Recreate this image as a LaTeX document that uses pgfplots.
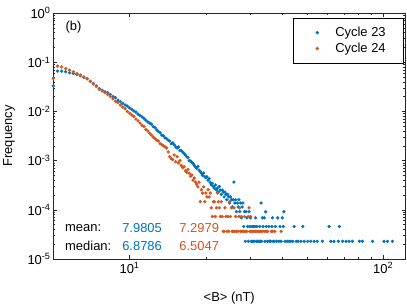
\documentclass[border=0pt]{standalone}
\usepackage{fontspec}
\setmainfont{Liberation Sans}
\usepackage{pgfplots}
\usepackage{pgfplotstable}
\pgfplotsset{compat=1.18}
\definecolor{mblue}{rgb}{0,0.447,0.741}
\definecolor{morange}{rgb}{0.85,0.325,0.098}
\definecolor{axgray}{rgb}{0.15,0.15,0.15}

% Cycle 23
\pgfplotstableread{
x f
5.0 0.033
5.2 0.066
5.4 0.066
5.6 0.064
5.8 0.061
6.0 0.059
6.2 0.056
6.4 0.053
6.6 0.049
6.8 0.046
7.0 0.041
7.2 0.037
7.4 0.033
7.6 0.029
7.8 0.027
8.0 0.025
8.2 0.024
8.4 0.022
8.6 0.020
8.8 0.019
9.0 0.0170
9.2 0.0158
9.4 0.0145
9.6 0.0135
9.8 0.0128
10.0 0.0118
10.2 0.0110
10.4 0.0102
10.6 0.0097
10.8 0.0088
11.0 0.0082
11.2 0.0077
11.4 0.0072
11.6 0.0066
11.8 0.0061
12.0 0.0058
12.2 0.0055
12.4 0.0049
12.6 0.0047
12.8 0.0042
13.0 0.0039
13.2 0.0037
13.4 0.0033
13.6 0.0032
13.8 0.0029
14.0 0.0028
14.2 0.0026
14.4 0.0025
14.6 0.0022
14.8 0.0023
15.0 0.0021
15.2 0.0019
15.4 0.0018
15.6 0.0019
15.8 0.0016
16.0 0.0016
16.2 0.0015
16.4 0.0014
16.6 0.0013
16.8 0.0012
17.0 0.00115
17.2 0.00100
17.4 0.00098
17.6 0.00092
17.8 0.00088
18.0 0.00080
18.2 0.00074
18.4 0.00070
18.6 0.00076
18.8 0.00064
19.0 0.00060
19.2 0.00055
19.4 0.00050
19.6 0.00056
19.8 0.00047
20.0 0.00045
20.2 0.00047
20.4 0.00040
20.6 0.00043
20.8 0.00036
21.0 3.206e-4
21.2 3.435e-4
21.4 2.977e-4
21.6 2.748e-4
21.8 3.206e-4
22.0 2.519e-4
22.2 2.748e-4
22.4 2.29e-4
22.6 2.977e-4
22.8 2.519e-4
23.0 2.061e-4
23.2 2.519e-4
23.4 2.29e-4
23.6 1.832e-4
23.8 2.29e-4
24.0 2.061e-4
24.2 1.603e-4
24.4 2.061e-4
24.6 1.832e-4
24.8 1.374e-4
25.0 1.832e-4
25.2 1.603e-4
25.4 1.145e-4
25.6 1.603e-4
25.8 3.664e-4
26.0 1.374e-4
26.2 1.603e-4
26.4 9.16e-5
26.6 1.374e-4
26.8 1.145e-4
27.0 1.603e-4
27.2 9.16e-5
27.4 1.374e-4
27.6 6.87e-5
27.8 1.145e-4
28.0 1.374e-4
28.2 4.58e-5
28.4 9.16e-5
28.6 2.29e-5
28.8 9.16e-5
29.0 6.87e-5
29.2 4.58e-5
29.4 2.29e-5
29.6 9.16e-5
29.8 4.58e-5
30.0 6.87e-5
30.2 2.29e-5
30.4 4.58e-5
30.6 2.29e-5
30.8 4.58e-5
31.0 2.29e-5
31.2 4.58e-5
31.4 6.87e-5
31.6 2.29e-5
31.8 4.58e-5
32.0 2.29e-5
32.4 2.29e-5
32.6 4.58e-5
32.8 2.29e-5
33.0 1.374e-4
33.2 2.29e-5
33.4 6.87e-5
33.6 4.58e-5
34.0 6.87e-5
34.2 2.29e-5
34.4 9.16e-5
34.6 4.58e-5
35.0 2.29e-5
35.4 4.58e-5
35.6 2.29e-5
36.0 2.29e-5
36.4 4.58e-5
36.6 6.87e-5
36.8 2.29e-5
37.2 2.29e-5
37.6 4.58e-5
38.0 2.29e-5
38.4 6.87e-5
38.8 2.29e-5
39.2 4.58e-5
39.6 2.29e-5
40.0 6.87e-5
40.4 4.58e-5
40.6 9.16e-5
41.0 2.29e-5
41.8 2.29e-5
42.6 2.29e-5
43.2 2.29e-5
44.0 2.29e-5
44.6 4.58e-5
45.4 2.29e-5
46.2 2.29e-5
47.4 2.29e-5
48.2 4.58e-5
48.8 2.29e-5
50.4 2.29e-5
51.8 2.29e-5
53.4 2.29e-5
55.0 2.29e-5
57.6 2.29e-5
61.2 4.58e-5
62.2 2.29e-5
64.0 2.29e-5
66.6 2.29e-5
67.2 4.58e-5
69.2 2.29e-5
71.4 2.29e-5
73.4 2.29e-5
75.6 2.29e-5
80.6 2.29e-5
82.8 2.29e-5
90.8 2.29e-5
100.8 2.29e-5
104.0 2.29e-5
108.8 2.29e-5
}\cyclea

% Cycle 24
\pgfplotstableread{
x f
5.0 0.047
5.2 0.083
5.4 0.080
5.6 0.074
5.8 0.069
6.0 0.064
6.2 0.059
6.4 0.055
6.6 0.050
6.8 0.046
7.0 0.041
7.2 0.036
7.4 0.032
7.6 0.028
7.8 0.026
8.0 0.024
8.2 0.022
8.4 0.020
8.6 0.018
8.8 0.016
9.0 0.0150
9.2 0.0135
9.4 0.0122
9.6 0.0113
9.8 0.0100
10.0 0.0092
10.2 0.0085
10.4 0.0079
10.6 0.0070
10.8 0.0064
11.0 0.0058
11.2 0.0052
11.4 0.0049
11.6 0.0043
11.8 0.0040
12.0 0.0036
12.2 0.0033
12.4 0.0030
12.6 0.0028
12.8 0.0026
13.0 0.0025
13.2 0.0022
13.4 0.0021
13.6 0.0020
13.8 0.0019
14.0 0.0018
14.2 0.0015
14.4 0.0012
14.6 0.0011
14.8 0.00105
15.0 0.0013
15.2 0.00095
15.4 0.0012
15.6 0.0009
15.8 0.0010
16.0 0.0008
16.2 0.00072
16.4 0.00075
16.6 0.00062
16.8 0.00058
17.0 0.00066
17.2 0.00055
17.4 0.00048
17.6 0.00051
17.8 0.00040
18.0 0.00044
18.2 3.65e-4
18.4 3.285e-4
18.6 2.92e-4
18.8 3.65e-4
19.0 1.46e-4
19.2 2.555e-4
19.4 2.19e-4
19.6 2.92e-4
19.8 1.46e-4
20.0 2.19e-4
20.2 1.825e-4
20.4 2.555e-4
20.6 1.825e-4
20.8 2.19e-4
21.0 1.095e-4
21.2 7.3e-5
21.4 1.46e-4
21.6 1.46e-4
21.8 7.3e-5
22.0 1.095e-4
22.2 2.19e-4
22.4 1.46e-4
22.6 1.095e-4
22.8 7.3e-5
23.0 1.46e-4
23.2 7.3e-5
23.4 3.65e-5
23.6 3.65e-5
23.8 1.095e-4
24.0 7.3e-5
24.2 3.65e-5
24.4 7.3e-5
24.6 3.65e-5
24.8 1.46e-4
25.0 7.3e-5
25.2 1.095e-4
25.4 3.65e-5
25.6 3.65e-5
25.8 1.095e-4
26.0 3.65e-5
26.2 7.3e-5
26.4 3.65e-5
26.8 3.65e-5
27.0 7.3e-5
27.2 1.095e-4
27.4 3.65e-5
27.6 7.3e-5
27.8 3.65e-5
28.2 3.65e-5
28.4 7.3e-5
28.6 3.65e-5
29.0 3.65e-5
29.4 7.3e-5
29.6 1.095e-4
29.8 3.65e-5
30.0 7.3e-5
30.2 3.65e-5
30.6 3.65e-5
31.0 3.65e-5
31.4 3.65e-5
31.8 3.65e-5
32.2 3.65e-5
32.6 3.65e-5
33.0 3.65e-5
33.4 3.65e-5
34.0 3.65e-5
34.6 3.65e-5
35.0 3.65e-5
36.2 3.65e-5
36.6 3.65e-5
37.4 3.65e-5
39.6 3.65e-5
}\cycleb

\begin{document}
\begin{tikzpicture}
\useasboundingbox (0,0) rectangle (407bp,305bp);
\begin{axis}[
  at={(53bp,46bp)}, anchor=south west,
  scale only axis, width=352.5bp, height=246bp,
  xmode=log, ymode=log,
  xmin=4.99, xmax=122.5, ymin=1e-5, ymax=1,
  font=\fontsize{13}{15}\selectfont,
  xtick={10,100},
  xticklabels={10\textsuperscript{1},10\textsuperscript{2}},
  ytick={1e-5,1e-4,1e-3,1e-2,1e-1,1},
  yticklabels={10\textsuperscript{-5},10\textsuperscript{-4},10\textsuperscript{-3},10\textsuperscript{-2},10\textsuperscript{-1},10\textsuperscript{0}},
  yticklabel style={xshift=1bp},
  tick align=inside,
  major tick length=4bp, minor tick length=2.2bp,
  axis line style={axgray, line width=0.55bp},
  every tick/.style={axgray, line width=0.5bp},
  xlabel={<B> (nT)}, ylabel={Frequency},
  xlabel style={at={(axis description cs:0.5,-0.1585)}, anchor=center},
  ylabel style={at={(axis description cs:-0.125,0.5)}, anchor=center},
  legend style={at={(rel axis cs:0.9957,0.98)}, anchor=north east, draw=black, line width=0.6bp,
    font=\fontsize{13}{15}\selectfont, inner xsep=0bp, inner ysep=7bp, row sep=1bp},
  legend cell align=left,
  legend image code/.code={\path[draw=none,fill=none] (0bp,0bp) -- (40bp,0bp); \fill[#1] (24bp,0bp) circle (1.4bp);},
]
\addplot[only marks, mark=*, mark size=1.45bp, color=mblue, mark options={draw=none, fill=mblue}] table[x=x,y=f] {\cyclea};
\addlegendentry{Cycle 23\hspace*{16bp}}
\addplot[only marks, mark=*, mark size=1.45bp, color=morange, mark options={draw=none, fill=morange}] table[x=x,y=f] {\cycleb};
\addlegendentry{Cycle 24\hspace*{16bp}}
\node[anchor=west] at (rel axis cs:0.0255,0.943) {(b)};
\node[anchor=west, inner sep=0bp] at (rel axis cs:0.034,0.127) {mean:};
\node[anchor=west, inner sep=0bp] at (rel axis cs:0.034,0.053) {median:};
\node[anchor=west, mblue, inner sep=0bp] at (rel axis cs:0.196,0.127) {7.9805};
\node[anchor=west, mblue, inner sep=0bp] at (rel axis cs:0.196,0.053) {6.8786};
\node[anchor=west, morange, inner sep=0bp] at (rel axis cs:0.358,0.127) {7.2979};
\node[anchor=west, morange, inner sep=0bp] at (rel axis cs:0.358,0.053) {6.5047};
\end{axis}
\end{tikzpicture}
\end{document}
